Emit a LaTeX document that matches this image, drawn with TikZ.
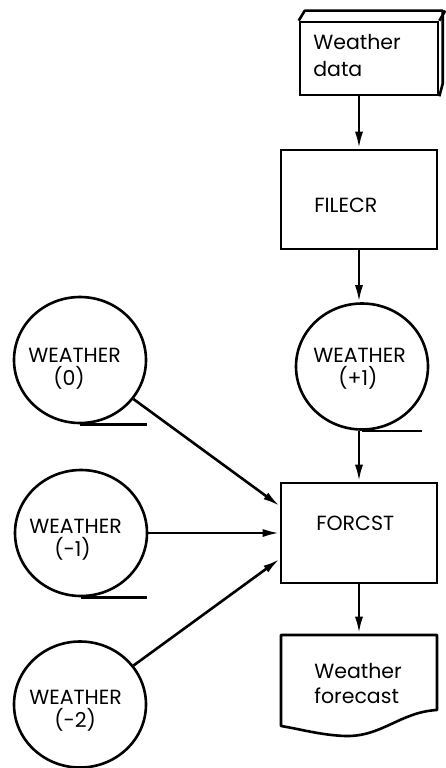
\documentclass[tikz,border=0pt]{standalone}
\usepackage{fontspec}
\setmainfont{Poppins}
\usetikzlibrary{arrows.meta,shapes.geometric}
\begin{document}
\begin{tikzpicture}[x=1pt,y=-1pt,
  line width=2.6pt,
  box/.style={draw, rectangle, minimum width=156pt, minimum height=100pt, inner sep=0pt},
  store/.style={draw, ellipse, minimum width=132pt, minimum height=126pt, inner sep=0pt},
  lbl/.style={font=\fontsize{20.5}{23}\selectfont, inner sep=0pt, anchor=base west, align=left},
  flow/.style={-{Latex[length=17pt,width=8pt]}},
  tail/.style={line width=2.6pt}
]
\useasboundingbox (0,0) rectangle (445,768);

% Weather data (3-D box)
\node[draw, rectangle, minimum width=138pt, minimum height=73pt, inner sep=0pt] (wd) at (369,58.5) {};
\draw[line join=round] (wd.north west) -- ++(6,-10) -- ++(138,0) -- ++(0,73) -- (wd.south east);
\draw (wd.north east) -- ++(6,-10);
\node[lbl, font=\fontsize{20.5}{28}\selectfont] (twd) at (312,77) {Weather\\data};

% FILECR
\node[box, minimum height=99pt] (filecr) at (359,199.5) {};
\node[lbl] (tfilecr) at (313,212) {FILECR};

% WEATHER (+1)
\node[store] (w1) at (362,366.5) {};
\node[lbl] (tw1) at (312,385) {WEATHER\\\hspace*{25pt}(+1)};

% FORCST
\node[box] (forcst) at (359,533) {};
\node[lbl] (tforcst) at (315,530) {FORCST};

% Weather forecast (document)
\node[minimum width=156pt, minimum height=100pt, inner sep=0pt] (doc) at (359,685) {};
\draw[line join=round] (281,635) -- (437,635) -- (437,710)
  .. controls (400,712) and (382,737) .. (345,736)
  .. controls (320,735) and (300,729) .. (281,726) -- cycle;
\node[lbl, font=\fontsize{20.5}{25}\selectfont] (tdoc) at (313,703) {Weather\\forecast};

% left stores
\node[store] (w0) at (80,360) {};
\node[lbl] (tw0) at (27,385) {WEATHER\\\hspace*{25pt}(0)};
\node[store] (wm1) at (81,533) {};
\node[lbl] (twm1) at (28,556) {WEATHER\\\hspace*{25pt}(-1)};
\node[store] (wm2) at (80,704.5) {};
\node[lbl] (twm2) at (28,727) {WEATHER\\\hspace*{25pt}(-2)};

% tails of stores
\draw[tail] (w1.south) -- ++(60,0);
\draw[tail] (w0.south) -- ++(67,0);
\draw[tail] (wm1.south) -- ++(66,0);
\draw[tail] (wm2.south) -- ++(70,0);

% flow
\coordinate (in0) at ([yshift=27pt]forcst.west);
\coordinate (in2) at ([yshift=-26pt]forcst.west);
\draw[flow] (filecr.north |- wd.south) -- (filecr.north);
\draw[flow] (filecr.south) -- (filecr.south |- w1.north);
\draw[flow] (forcst.north |- w1.south) -- (forcst.north);
\draw[flow] (forcst.south) -- (doc.north);
\draw[flow] (w0) -- (in0);
\draw[flow] (wm1) -- (forcst.west);
\draw[flow] (wm2) -- (in2);
\end{tikzpicture}
\end{document}
